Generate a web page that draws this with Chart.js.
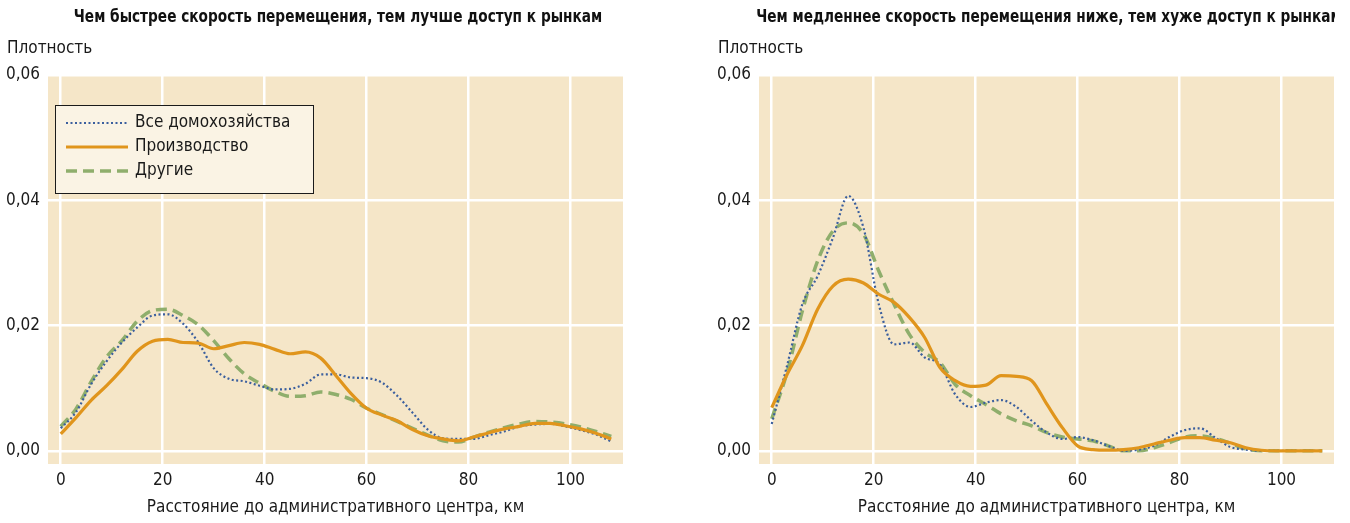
<!DOCTYPE html>
<html lang="ru">
<head>
<meta charset="utf-8">
<script src="https://cdn.jsdelivr.net/npm/chart.js@4.4.1/dist/chart.umd.min.js"></script>
<style>
  body { margin: 0; background: #fff; width: 1350px; height: 523px; overflow: hidden; }
  .panel { position: absolute; top: 0; height: 523px; overflow: hidden; }
  .head {
    position: absolute; top: 6px; left: 337.5px;
    transform: translateX(-50%) scaleX(0.845);
    font: bold 18px/20px "DejaVu Sans Condensed", "Liberation Sans Narrow", sans-serif;
    color: #111; white-space: nowrap;
  }
  canvas { position: absolute; top: 0; left: 0; }
</style>
</head>
<body>
<div class="panel" style="left:0;width:675px">
  <canvas id="fast-chart" width="675" height="523"></canvas>
  <div class="head">Чем быстрее скорость перемещения, тем лучше доступ к рынкам</div>
</div>
<div class="panel" style="left:711px;width:624px">
  <canvas id="slow-chart" width="675" height="523"></canvas>
  <div class="head">Чем медленнее скорость перемещения ниже, тем хуже доступ к рынкам</div>
</div>
<script>
// =======================
// Data
// =======================
const distanceKm = [0, 3, 6, 9, 12, 15, 18, 21, 24, 27, 30, 33, 36, 39, 42, 45, 48, 51, 54,
    57, 60, 63, 66, 69, 72, 75, 78, 81, 84, 87, 90, 93, 96, 99, 102, 105, 108];

// fast travel (left panel)
const fastAll = [0.0036, 0.0062, 0.0107, 0.0143, 0.0173, 0.0197, 0.0216, 0.0218, 0.0203, 0.0173,
    0.0132, 0.0115, 0.0111, 0.0104, 0.0098, 0.0099, 0.0107, 0.0122, 0.0122, 0.0117, 0.0116,
    0.0109, 0.0088, 0.0061, 0.0034, 0.0020, 0.0019, 0.0019, 0.0025, 0.0031, 0.0039, 0.0042,
    0.0043, 0.0039, 0.0033, 0.0026, 0.0015];
const fastProd = [0.0027, 0.0053, 0.0081, 0.0104, 0.0130, 0.0159, 0.0175, 0.0178, 0.0173, 0.0172,
    0.0163, 0.0168, 0.0173, 0.0170, 0.0162, 0.0155, 0.0158, 0.0148, 0.0120, 0.0091, 0.0068,
    0.0057, 0.0048, 0.0034, 0.0024, 0.0019, 0.0016, 0.0022, 0.0029, 0.0035, 0.0039, 0.0044,
    0.0044, 0.0040, 0.0035, 0.0028, 0.0019];
const fastOther = [0.0039, 0.0067, 0.0111, 0.0150, 0.0176, 0.0207, 0.0224, 0.0226, 0.0216, 0.0201,
    0.0176, 0.0147, 0.0123, 0.0108, 0.0095, 0.0087, 0.0088, 0.0094, 0.0090, 0.0082, 0.0068,
    0.0058, 0.0047, 0.0036, 0.0025, 0.0016, 0.0014, 0.0022, 0.0030, 0.0037, 0.0043, 0.0047,
    0.0046, 0.0043, 0.0038, 0.0031, 0.0023];

// slow travel (right panel)
const slowAll = [0.0043, 0.0136, 0.0234, 0.0279, 0.0340, 0.0407, 0.0356, 0.0234, 0.0170, 0.0173,
    0.0149, 0.0138, 0.0090, 0.0070, 0.0077, 0.0081, 0.0070, 0.0048, 0.0029, 0.0019, 0.0022,
    0.0017, 0.0008, 0.0000, 0.0002, 0.0008, 0.0022, 0.0033, 0.0036, 0.0021, 0.0006, 0.0002,
    0.0000, 0.0000, 0.0000, 0.0000, 0.0000];
const slowProd = [0.0069, 0.0122, 0.0168, 0.0226, 0.0263, 0.0274, 0.0268, 0.0250, 0.0237, 0.0213,
    0.0181, 0.0133, 0.0112, 0.0103, 0.0105, 0.0120, 0.0119, 0.0112, 0.0074, 0.0037, 0.0008,
    0.0002, 0.0001, 0.0002, 0.0005, 0.0011, 0.0017, 0.0021, 0.0021, 0.0017, 0.0013, 0.0005,
    0.0001, 0.0000, 0.0000, 0.0000, 0.0000];
const slowOther = [0.0051, 0.0125, 0.0223, 0.0303, 0.0351, 0.0364, 0.0346, 0.0287, 0.0234, 0.0186,
    0.0157, 0.0141, 0.0106, 0.0088, 0.0074, 0.0059, 0.0048, 0.0040, 0.0029, 0.0022, 0.0019,
    0.0016, 0.0008, 0.0000, 0.0000, 0.0005, 0.0013, 0.0022, 0.0024, 0.0020, 0.0012, 0.0003,
    0.0000, 0.0000, 0.0000, 0.0000, 0.0000];

const seriesNames = ['Все домохозяйства', 'Производство', 'Другие'];
const yTicks = [0, 0.02, 0.04, 0.06];
const xTicks = [0, 20, 40, 60, 80, 100];

// =======================
// Shared look
// =======================
const FONT = '"DejaVu Sans Condensed", "Liberation Sans Narrow", sans-serif';
Chart.defaults.font.family = FONT;
Chart.defaults.color = '#1a1a1a';

const PLOT_BG = '#f5e6c8';

const plotBackground = {
    id: 'plotBackground',
    beforeDraw(chart) {
        const {ctx, chartArea: a} = chart;
        ctx.save();
        ctx.fillStyle = PLOT_BG;
        ctx.fillRect(a.left, a.top, a.right - a.left, a.bottom - a.top);
        ctx.restore();
    }
};

// boxed legend with line samples, as in the printed figure
const boxLegend = {
    id: 'boxLegend',
    afterDatasetsDraw(chart, args, opts) {
        if (!opts.show) return;
        const {ctx, chartArea: a} = chart;
        const x = a.left + 7, y = a.top + 30, w = 258, h = 88;
        ctx.save();
        ctx.fillStyle = '#faf3e4';
        ctx.fillRect(x, y, w, h);
        ctx.strokeStyle = '#1a1a1a';
        ctx.lineWidth = 1;
        ctx.strokeRect(x + 0.5, y + 0.5, w, h);
        chart.data.datasets.forEach((ds, i) => {
            const ly = y + 18 + i * 24;
            ctx.beginPath();
            ctx.setLineDash(ds.borderDash || []);
            ctx.strokeStyle = ds.borderColor;
            ctx.lineWidth = ds.borderWidth;
            ctx.moveTo(x + 11, ly);
            ctx.lineTo(x + 73, ly);
            ctx.stroke();
            ctx.setLineDash([]);
            ctx.fillStyle = '#1a1a1a';
            ctx.font = '17px ' + FONT;
            ctx.textBaseline = 'middle';
            ctx.fillText(ds.label, x + 80, ly);
        });
        ctx.restore();
    }
};

function makeDatasets(all, prod, other) {
    const pts = arr => arr.map((v, i) => ({x: distanceKm[i], y: v}));
    return [{
        label: seriesNames[0],
        data: pts(all),
        borderColor: '#3b5f9e',
        borderWidth: 2.2,
        borderDash: [2, 2.5],
        order: 2
    }, {
        label: seriesNames[1],
        data: pts(prod),
        borderColor: '#e0951c',
        borderWidth: 3.2,
        order: 1
    }, {
        label: seriesNames[2],
        data: pts(other),
        borderColor: '#8fae6c',
        borderWidth: 3.5,
        borderDash: [11, 6],
        order: 3
    }];
}

function makeOptions(showLegend) {
    return {
        responsive: false,
        animation: false,
        layout: {padding: {left: 7, right: 52, top: 0, bottom: 0}},
        elements: {
            point: {radius: 0},
            line: {cubicInterpolationMode: 'monotone', fill: false}
        },
        scales: {
            x: {
                type: 'linear',
                min: -2.5,
                max: 110.3,
                afterFit: s => { s.height = 59; },
                afterBuildTicks: s => { s.ticks = xTicks.map(v => ({value: v})); },
                border: {display: false},
                grid: {color: '#ffffff', lineWidth: 2.5, drawTicks: false},
                ticks: {padding: 6, font: {size: 17}, color: '#1a1a1a'},
                title: {
                    display: true,
                    text: 'Расстояние до административного центра, км',
                    font: {size: 17},
                    color: '#1a1a1a',
                    padding: {top: 0, bottom: 4.8}
                }
            },
            y: {
                min: -0.0021,
                max: 0.06,
                afterFit: s => { s.width = 41; },
                afterBuildTicks: s => { s.ticks = yTicks.map(v => ({value: v})); },
                border: {display: false},
                grid: {color: '#ffffff', lineWidth: 2.5, drawTicks: false},
                ticks: {
                    padding: 8,
                    font: {size: 17},
                    color: '#1a1a1a',
                    callback: v => v.toFixed(2).replace('.', ',')
                }
            }
        },
        plugins: {
            legend: {display: false},
            tooltip: {enabled: false},
            title: {
                display: true,
                text: 'Плотность',
                align: 'start',
                color: '#1a1a1a',
                font: {size: 17, weight: 'normal', lineHeight: 1.2},
                padding: {top: 38.8, bottom: 15.8}
            },
            boxLegend: {show: showLegend}
        }
    };
}

// =======================
// The two panels
// =======================
const fastChart = new Chart(document.querySelector('#fast-chart'), {
    type: 'line',
    data: {datasets: makeDatasets(fastAll, fastProd, fastOther)},
    options: makeOptions(true),
    plugins: [plotBackground, boxLegend]
});

const slowChart = new Chart(document.querySelector('#slow-chart'), {
    type: 'line',
    data: {datasets: makeDatasets(slowAll, slowProd, slowOther)},
    options: makeOptions(false),
    plugins: [plotBackground, boxLegend]
});
</script>
</body>
</html>
